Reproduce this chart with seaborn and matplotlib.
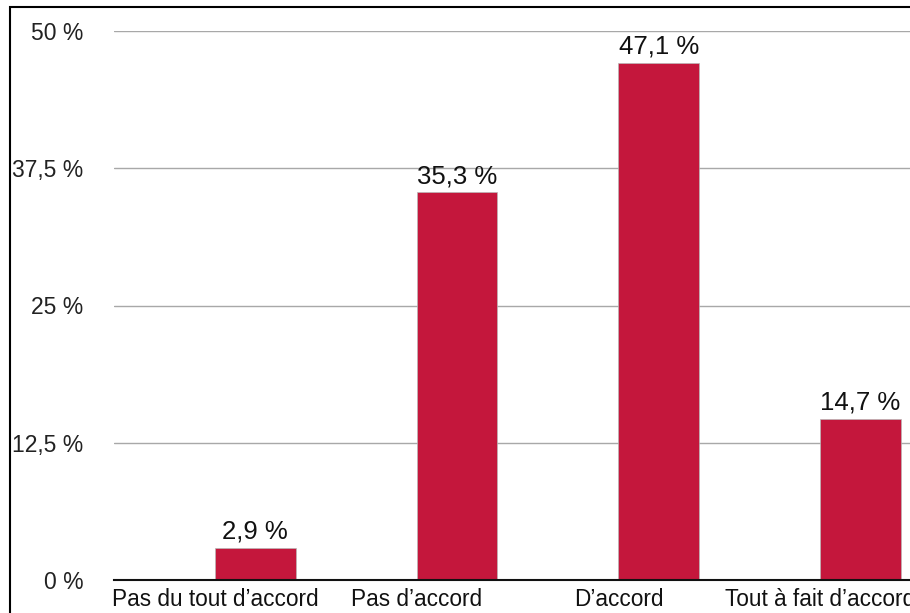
import numpy as np
import pandas as pd
import matplotlib
matplotlib.use("Agg")
import matplotlib.pyplot as plt
import seaborn as sns
from matplotlib.patches import Rectangle

# donnees
categories = ["Pas du tout d\u2019accord", "Pas d\u2019accord", "D\u2019accord", "Tout \u00e0 fait d\u2019accord"]
pourcentages = [2.9, 35.3, 47.1, 14.7]
series = ["(vide)", "R\u00e9ponses"]  # la premiere serie est vide dans l'original
yticks = [0, 12.5, 25, 37.5, 50]
ytick_labels = ["0 %", "12,5 %", "25 %", "37,5 %", "50 %"]

df = pd.DataFrame({"reponse": categories, "pct": pourcentages, "serie": series[1]})

sns.set_style("white")
plt.rcParams["font.family"] = ["Liberation Sans", "DejaVu Sans"]

fig = plt.figure(figsize=(9.10, 6.13), dpi=100)
ax = fig.add_axes([114 / 910, 33 / 613, 807 / 910, 549 / 613])

sns.barplot(data=df, x="reponse", y="pct", hue="serie", hue_order=series,
            order=categories, palette={series[0]: "white", series[1]: "#C4173C"},
            saturation=1, width=0.8, dodge=True, legend=False, ax=ax,
            edgecolor="#B8B8B8", linewidth=0.5, zorder=3)

for cont in ax.containers:
    vals = [b.get_height() for b in cont]
    labs = [f"{v:.1f} %".replace(".", ",") if not np.isnan(v) else "" for v in vals]
    ax.bar_label(cont, labels=labs, padding=3, fontsize=18.5, color="#111111")

ax.set_ylim(0, 50)
ax.set_yticks(yticks)
ax.set_yticklabels(ytick_labels, fontsize=16.5, color="#222222")
ax.tick_params(axis="y", length=0, pad=22)
ax.tick_params(axis="x", length=0, pad=6, labelsize=16.3, labelcolor="#111111")
ax.set_xlabel("")
ax.set_ylabel("")
ax.yaxis.grid(True, color="#A8A8A8", linewidth=1)
ax.set_axisbelow(True)
for s in ["top", "right", "left"]:
    ax.spines[s].set_visible(False)
ax.spines["bottom"].set_color("#111111")
ax.spines["bottom"].set_linewidth(1.5)
ax.spines["bottom"].set_zorder(4)

# cadre noir de la capture
fig.patches.append(Rectangle((10 / 910, -0.1), 1.2, (613 - 7) / 613 + 0.1,
                             transform=fig.transFigure, fill=False,
                             edgecolor="black", linewidth=1.5))

fig.savefig("out.png", dpi=100)
